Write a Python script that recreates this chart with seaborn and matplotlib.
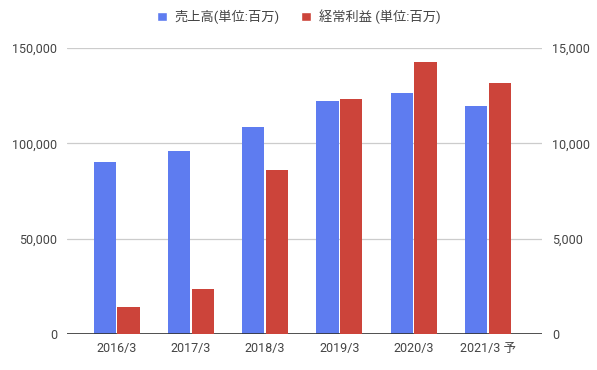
import pandas as pd
import matplotlib.pyplot as plt
import matplotlib.ticker as mticker
from matplotlib.patches import Patch
import seaborn as sns

# data
years = ["2016/3", "2017/3", "2018/3", "2019/3", "2020/3", "2021/3 予"]
sales = [90200, 95800, 108600, 122200, 126400, 119600]
profit = [1400, 2340, 8600, 12330, 14270, 13150]

sales_label = "売上高(単位:百万)"
profit_label = "経常利益 (単位:百万)"

blue = "#5E7CF0"
red = "#CC443A"

sns.set_theme(style="white")
plt.rcParams['font.family'] = ['Roboto', 'Noto Sans CJK JP', 'DejaVu Sans']
plt.rcParams['font.size'] = 9

# long-form tables: each axis holds its own series, the other hue slot is empty
df_sales = pd.DataFrame({"year": years * 2,
                         "value": sales + [float("nan")] * len(years),
                         "series": [sales_label] * len(years) + [profit_label] * len(years)})
df_profit = pd.DataFrame({"year": years * 2,
                          "value": [float("nan")] * len(years) + profit,
                          "series": [sales_label] * len(years) + [profit_label] * len(years)})
hue_order = [sales_label, profit_label]
pal = {sales_label: blue, profit_label: red}

fig = plt.figure(figsize=(5.97, 3.70), dpi=100)
ax = fig.add_axes([0.112, 0.097, 0.796, 0.773])
ax2 = ax.twinx()

sns.barplot(data=df_sales, x="year", y="value", hue="series", hue_order=hue_order,
            order=years, palette=pal, width=0.64, gap=0.07, dodge=True,
            errorbar=None, legend=False, ax=ax, saturation=1, linewidth=0)
sns.barplot(data=df_profit, x="year", y="value", hue="series", hue_order=hue_order,
            order=years, palette=pal, width=0.64, gap=0.07, dodge=True,
            errorbar=None, legend=False, ax=ax2, saturation=1, linewidth=0)

ax.set_ylim(0, 150000)
ax2.set_ylim(0, 15000)
ax.set_yticks([0, 50000, 100000, 150000])
ax2.set_yticks([0, 5000, 10000, 15000])
ax.yaxis.set_major_formatter(mticker.StrMethodFormatter('{x:,.0f}'))
ax2.yaxis.set_major_formatter(mticker.StrMethodFormatter('{x:,.0f}'))
ax.set_xlim(-0.67, 5.73)

ax.grid(axis='y', color='#cccccc', linewidth=0.9)
ax.set_axisbelow(True)
ax2.grid(False)
for a in (ax, ax2):
    a.set_xlabel('')
    a.set_ylabel('')
    for side in ('top', 'left', 'right', 'bottom'):
        a.spines[side].set_visible(False)
    a.tick_params(axis='both', length=0, colors='#444444', labelsize=9)
ax.axhline(0, color='#333333', linewidth=1.2, zorder=5)
ax.tick_params(axis='x', pad=6)
ax.tick_params(axis='y', pad=7)
ax2.tick_params(axis='y', pad=7)

handles = [Patch(facecolor=blue, label=sales_label),
           Patch(facecolor=red, label=profit_label)]
fig.legend(handles=handles, loc='center', bbox_to_anchor=(0.5, 0.955), ncol=2,
           frameon=False, fontsize=9.5, handlelength=0.75, handleheight=0.75,
           handletextpad=0.6, columnspacing=1.6, labelcolor='#444444')

fig.savefig('out.png', dpi=100)
